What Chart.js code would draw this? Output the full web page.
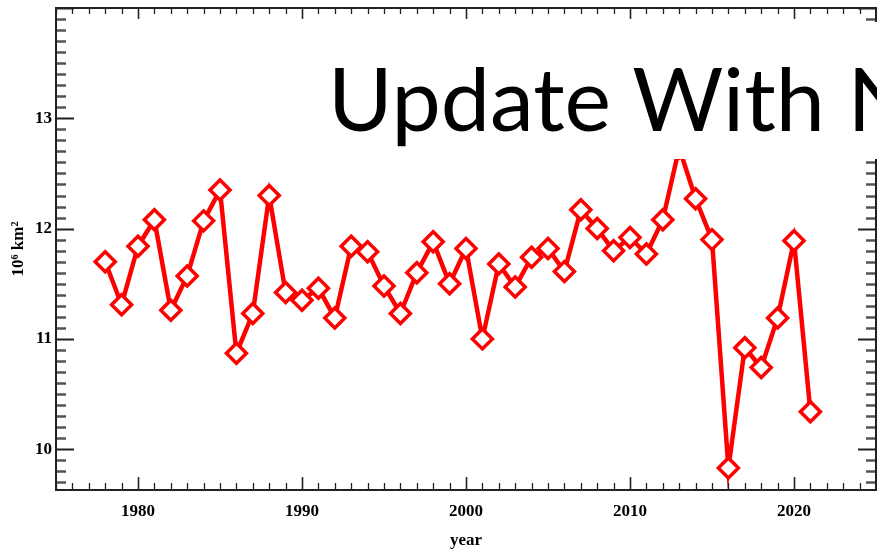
<!DOCTYPE html>
<html>
<head>
<meta charset="utf-8">
<script src="https://cdn.jsdelivr.net/npm/chart.js@4/dist/chart.umd.min.js"></script>
<style>
    html, body { margin: 0; padding: 0; background: #fff; overflow: hidden; }
    #wrap { position: relative; width: 877px; height: 551px; }
    #note {
        position: absolute; left: 310px; top: 22px; width: 567px; height: 137px;
        background: #fff; overflow: hidden; white-space: nowrap;
        font-family: Lato, "Open Sans", sans-serif; font-size: 88px; color: #000;
    }
    #note span { position: absolute; left: 18px; top: 31px; line-height: 1; }
</style>
</head>
<body>
<div id="wrap">
    <canvas id="extent" width="877" height="551"></canvas>
    <div id="note"><span>Update With N</span></div>
</div>
<script>
const years = [1978, 1979, 1980, 1981, 1982, 1983, 1984, 1985, 1986, 1987, 1988, 1989,
    1990, 1991, 1992, 1993, 1994, 1995, 1996, 1997, 1998, 1999, 2000, 2001, 2002, 2003,
    2004, 2005, 2006, 2007, 2008, 2009, 2010, 2011, 2012, 2013, 2014, 2015, 2016, 2017,
    2018, 2019, 2020, 2021];
const extent = [11.70, 11.31, 11.84, 12.08, 11.26, 11.57, 12.07, 12.35, 10.87, 11.23, 12.30, 11.42,
    11.35, 11.46, 11.19, 11.84, 11.79, 11.48, 11.23, 11.60, 11.88, 11.50, 11.82, 11.00, 11.68, 11.47,
    11.74, 11.82, 11.61, 12.17, 12.00, 11.80, 11.92, 11.77, 12.08, 12.73, 12.27, 11.90, 9.83, 10.92,
    10.74, 11.19, 11.89, 10.34];
const yearLabels = [1980, 1990, 2000, 2010, 2020];
const extentLabels = [10, 11, 12, 13];

const tickFont = { family: '"Liberation Serif", "Times New Roman", serif', size: 17, weight: 'bold' };

// ticks pointing into the plot on all four sides, like the IDL original
const frameTicks = {
    id: 'frameTicks',
    afterDraw(chart) {
        const { ctx, chartArea: a, scales: { x, y } } = chart;
        ctx.save();
        ctx.lineCap = 'butt';

        for (let yr = 1975; yr <= 2025; yr++) {
            const px = Math.round(x.getPixelForValue(yr)) + 0.5;
            const major = yr % 10 === 0;
            ctx.strokeStyle = '#222';
            ctx.lineWidth = major ? 1.6 : 1.3;
            ctx.beginPath();
            ctx.moveTo(px, a.bottom); ctx.lineTo(px, a.bottom - (major ? 13 : 7));
            ctx.moveTo(px, a.top); ctx.lineTo(px, a.top + (major ? 11 : 6));
            ctx.stroke();
        }

        for (let i = 97; i <= 140; i++) {
            const v = i / 10;
            if (v < y.min || v > y.max) continue;
            const py = Math.round(y.getPixelForValue(v)) + 0.5;
            const major = i % 10 === 0;
            ctx.strokeStyle = major ? '#222' : '#555';
            ctx.lineWidth = major ? 2 : 2.5;
            ctx.beginPath();
            ctx.moveTo(a.left, py); ctx.lineTo(a.left + (major ? 18 : 10), py);
            ctx.moveTo(a.right, py); ctx.lineTo(a.right - (major ? 18 : 10), py);
            ctx.stroke();
        }

        ctx.strokeStyle = '#222';
        ctx.lineWidth = 2;
        ctx.strokeRect(a.left, a.top, a.right - a.left, a.bottom - a.top);
        ctx.restore();
    }
};

new Chart(document.getElementById('extent'), {
    type: 'line',
    data: {
        datasets: [{
            data: years.map((yr, i) => ({ x: yr, y: extent[i] })),
            borderColor: '#ff0000',
            borderWidth: 4.5,
            pointStyle: 'rectRot',
            pointRadius: 10,
            pointBorderWidth: 3.5,
            pointBorderColor: '#ff0000',
            pointBackgroundColor: '#ffffff',
            tension: 0
        }]
    },
    options: {
        responsive: false,
        animation: false,
        events: [],
        layout: { autoPadding: false, padding: { top: 8, right: 1, left: 0, bottom: 0 } },
        plugins: { legend: { display: false }, tooltip: { enabled: false } },
        scales: {
            x: {
                type: 'linear',
                min: 1975,
                max: 2025,
                afterFit: s => { s.height = 61; s.paddingLeft = 0; s.paddingRight = 0; },
                grid: { display: false, drawTicks: false },
                border: { display: false },
                afterBuildTicks: s => { s.ticks = yearLabels.map(v => ({ value: v })); },
                ticks: {
                    font: tickFont, color: '#000', padding: 11, maxRotation: 0, autoSkip: false,
                    callback: v => String(v)
                },
                title: {
                    display: true, text: 'year', color: '#000',
                    font: { family: tickFont.family, size: 17, weight: 'bold' },
                    padding: { top: 0, bottom: 0 }
                }
            },
            y: {
                min: 9.63,
                max: 14.0,
                afterFit: s => { s.width = 56; s.paddingTop = 0; s.paddingBottom = 0; },
                grid: { display: false, drawTicks: false },
                border: { display: false },
                afterBuildTicks: s => { s.ticks = extentLabels.map(v => ({ value: v })); },
                ticks: { font: tickFont, color: '#000', padding: 4, callback: v => String(v) },
                title: {
                    display: true, text: '10⁶ km²', color: '#000',
                    font: { family: tickFont.family, size: 17, weight: 'bold' },
                    padding: { top: 8, bottom: 0 }
                }
            }
        }
    },
    plugins: [frameTicks]
});
</script>
</body>
</html>
